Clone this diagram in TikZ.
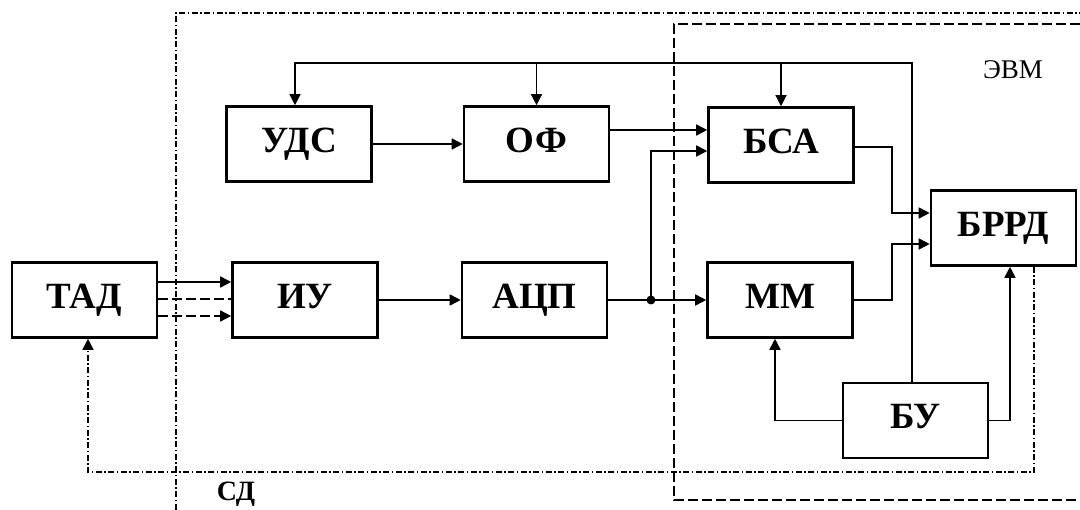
\documentclass[tikz,border=0pt]{standalone}
\usepackage{fontspec}
\setmainfont{Liberation Serif}
\usetikzlibrary{arrows.meta}
\begin{document}
\begin{tikzpicture}[x=1pt,y=-1pt,
  blk/.style={draw,line width=2.6pt,minimum width=145pt,minimum height=75pt,inner sep=0pt,
    text height=24pt,text depth=7pt,
    font=\bfseries\fontsize{37}{40}\selectfont},
  conn/.style={line width=1.7pt},
  bus/.style={line width=1.3pt},
  arr/.style={-{Triangle[length=11pt,width=11pt]}},
  ddot/.style={line width=1.2pt,dash pattern=on 6pt off 2.5pt on 1.5pt off 2.5pt},
  dsh/.style={line width=1.3pt,dash pattern=on 10pt off 4pt},
  dshs/.style={line width=1.5pt,dash pattern=on 10pt off 4pt}]
\useasboundingbox (0,0) rectangle (1080,510);
\fill[white] (0,0) rectangle (1080,510);
% boundaries
\draw[ddot] (176,510) -- (176,13) -- (1080,13);
\draw[dsh] (1080,24) -- (674,24) -- (674,500) -- (1080,500);
\node[font=\fontsize{27}{30}\selectfont] (evm) at (1013,70) {ЭВМ};
\node[font=\bfseries\fontsize{28}{30}\selectfont] (sd) at (236,494) {СД};
% blocks
\node[blk] (TAD) at (84.5,300) {ТАД};
\node[blk] (IU) at (305,300) {ИУ};
\node[blk] (ADC) at (534.5,300) {АЦП};
\node[blk] (UDS) at (299,144) {УДС};
\node[blk] (OF) at (536.5,144) {ОФ};
\node[blk] (BSA) at (781,145) {БСА};
\node[blk] (MM) at (780,300) {ММ};
\node[blk] (BRRD) at (1003.5,228) {БРРД};
\node[blk] (BU) at (915.5,420.5) {БУ};
% TAD -> IU
\draw[conn,arr] ([yshift=18pt]TAD.east) -- ([yshift=18pt]IU.west);
\draw[dshs] ([yshift=1pt]TAD.east) -- ([yshift=1pt]IU.west);
\draw[dshs,arr] ([yshift=-16pt]TAD.east) -- ([yshift=-16pt]IU.west);
% chain
\draw[conn,arr] (IU.east) -- (ADC.west);
\draw[conn,arr] (UDS.east) -- (OF.west);
\coordinate (ofo) at ([yshift=14pt]OF.east);
\draw[conn,arr] (ofo) -- (ofo -| BSA.west);
\coordinate (jx) at (651,0);
\coordinate (j) at (ADC.east -| jx);
\draw[conn,arr] (ADC.east) -- (MM.west);
\fill (j) circle (4.5pt);
\draw[conn,arr] (j) |- ([yshift=-6pt]BSA.west);
% top bus from BU
\coordinate (busR) at (912,63);
\draw[bus,arr] (busR |- BU.north) -- (busR) -| ([xshift=-4pt]UDS.north);
\draw[bus,arr] (OF.north |- busR) -- (OF.north);
\draw[bus,arr] (BSA.north |- busR) -- (BSA.north);
% to BRRD
\coordinate (kx) at (892,0);
\coordinate (bsao) at ([yshift=-2pt]BSA.east);
\coordinate (br1) at ([yshift=15pt]BRRD.west);
\coordinate (br2) at ([yshift=-16pt]BRRD.west);
\draw[conn,arr] (bsao) -- (bsao -| kx) |- (br1);
\draw[conn,arr] (MM.east) -- (MM.east -| kx) |- (br2);
% BU outputs
\draw[conn,arr] (BU.west) -| ([xshift=-5pt]MM.south);
\draw[conn,arr] (BU.east) -| ([xshift=6.5pt]BRRD.south);
% feedback
\coordinate (fbc) at (88,472);
\draw[ddot,arr] ([xshift=30.5pt]BRRD.south) |- (fbc) -- ([xshift=3.5pt]TAD.south);
\end{tikzpicture}
\end{document}
